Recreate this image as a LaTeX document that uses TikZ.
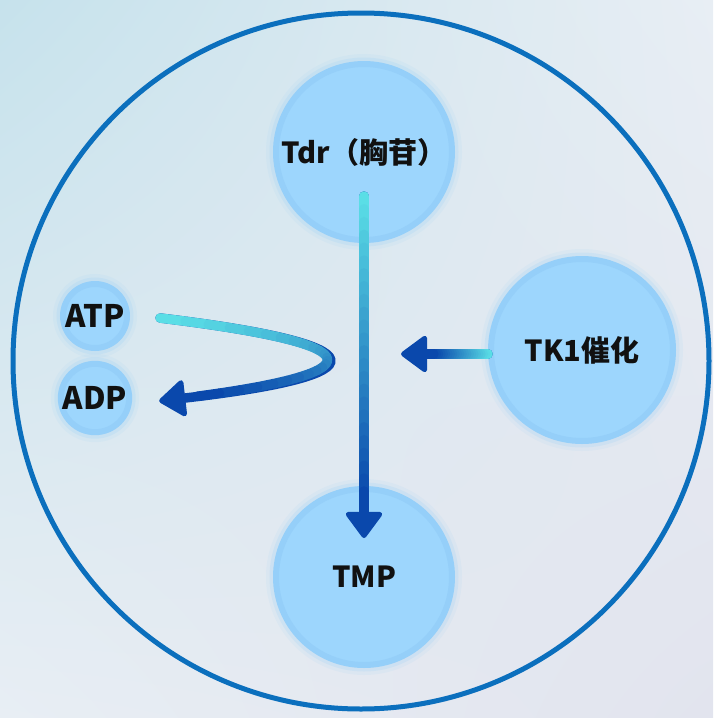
\documentclass[tikz,border=0pt]{standalone}
\usepackage{fontspec}
\newfontfamily\cjkfont{Noto Sans CJK SC}
\usetikzlibrary{arrows.meta,calc,shadings}
\definecolor{cellbg}{HTML}{E8EEF4}
\definecolor{cellcyan}{HTML}{C6E2EC}
\definecolor{cellmist}{HTML}{E2E4EE}
\definecolor{cellring}{HTML}{0B6FBD}
\definecolor{bubblefill}{HTML}{9DD6FD}
\definecolor{bubbleedge}{HTML}{95CFF9}
\definecolor{flowcyan}{HTML}{5ADEE6}
\definecolor{flowdark}{HTML}{0A48AC}
\definecolor{labelink}{HTML}{111111}
\newcommand{\flowgrad}[1]{%
  \foreach \i [evaluate=\i as \mixpct using int(100*\i/23), evaluate=\i as \j using int(\i+1)] in {0,...,23}
    \draw[flowline, color=flowdark!\mixpct!flowcyan] (#1\i) -- (#1\j);
}
\begin{document}
\begin{tikzpicture}[
  x=1pt,
  y=-1pt,
  bubble/.style={circle, inner sep=0pt, fill=bubblefill, draw=bubbleedge, line width=6pt,
    preaction={draw=bubbleedge, line width=20pt, draw opacity=0.1},
    preaction={draw=bubbleedge, line width=13pt, draw opacity=0.2},
    text=labelink, font=\cjkfont\bfseries\fontsize{29}{32}\selectfont},
  flowline/.style={line width=9.5pt, line cap=round},
  flowtip/.style={-{Triangle[width=40pt, length=28pt, line width=5pt, round]}}
]
  % backdrop and cell
  \shade[upper left=cellcyan, upper right=cellbg, lower left=cellbg, lower right=cellmist] (0,0) rectangle (713,718);
  \draw[cellring, line width=5pt] (361,361) circle (348);

  \node[bubble, minimum size=176] (tdr) at (364,152) {Tdr（胸苷）};
  \node[bubble, minimum size=176] (tmp) at (364,577) {TMP};
  \node[bubble, minimum size=182] (tk) at (582,350) {TK1催化};
  \node[bubble, minimum size=64, font=\cjkfont\bfseries\fontsize{31}{34}\selectfont] (atp) at (95,316) {ATP};
  \node[bubble, minimum size=66, font=\cjkfont\bfseries\fontsize{31}{34}\selectfont] (adp) at (95,398) {ADP};

  \coordinate (tdrout) at ([yshift=-44pt]tdr.center);
  \coordinate (tmpin) at ([yshift=39pt]tmp.center);
  \coordinate (tkin) at (401,354);
  \coordinate (atpout) at ([xshift=30pt,yshift=-2pt]atp.east);
  \coordinate (adpin) at ([xshift=27pt,yshift=-3pt]adp.east);

  % dark strokes with heads
  \draw[flowline, flowdark, flowtip] (tdrout) -- (tmpin);
  \draw[flowline, flowdark, flowtip] (tk.west |- tkin) -- (tkin);
  \draw[flowline, flowdark, flowtip] (atpout) .. controls +(223,27) and +(225,-26) .. (adpin);

  % colour runs along the strokes
  \path (tdrout) -- (tmpin) foreach \k [evaluate=\k as \t using 0.9*\k/24] in {0,...,24} {coordinate[pos=\t] (vg\k)};
  \path (tk.west |- tkin) -- (tkin) foreach \k [evaluate=\k as \t using 0.65*\k/24] in {0,...,24} {coordinate[pos=\t] (hg\k)};
  \path (atpout) .. controls +(223,27) and +(225,-26) .. (adpin) foreach \k [evaluate=\k as \t using 0.94*\k/24] in {0,...,24} {coordinate[pos=\t] (cg\k)};
  \flowgrad{vg}
  \flowgrad{hg}
  \flowgrad{cg}
\end{tikzpicture}
\end{document}
